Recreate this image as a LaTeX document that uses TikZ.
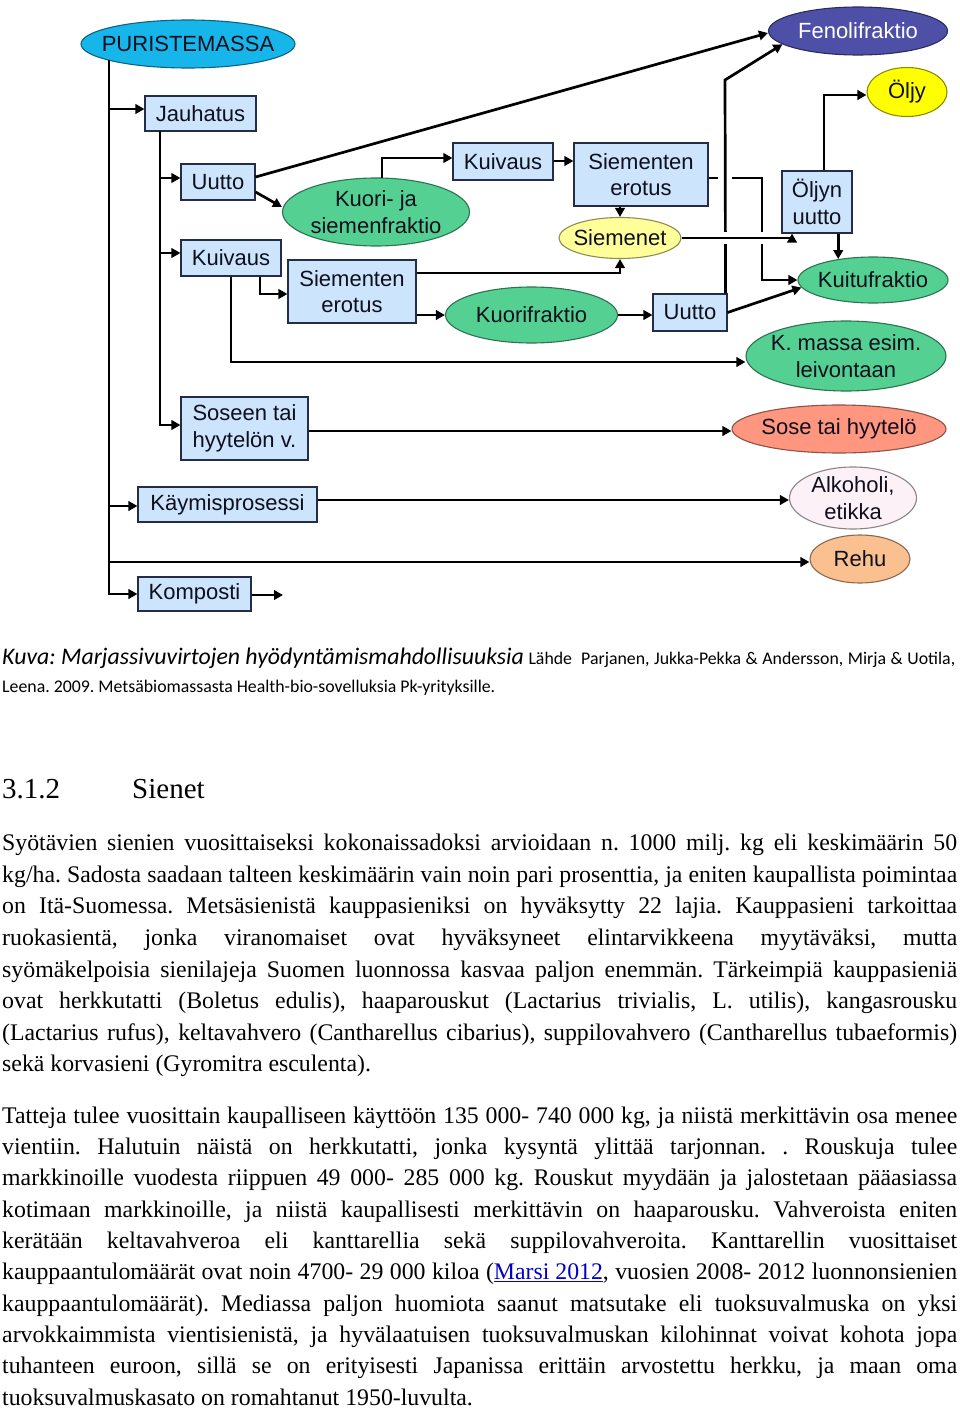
\documentclass[tikz,border=0pt]{standalone}
\usepackage{fontspec}
\setmainfont{Liberation Serif}
\newfontfamily\arialf{Liberation Sans}
\newfontfamily\calib{Carlito}
\usetikzlibrary{shapes.geometric,arrows.meta,calc}
\definecolor{boxfill}{RGB}{204,228,252}
\definecolor{bordc}{RGB}{35,45,70}
\definecolor{txtc}{RGB}{15,15,30}
\definecolor{cyanc}{RGB}{22,182,234}
\definecolor{fenc}{RGB}{78,80,168}
\definecolor{yelc}{RGB}{255,255,0}
\definecolor{ltyel}{RGB}{255,255,153}
\definecolor{grnc}{RGB}{84,208,146}
\definecolor{salc}{RGB}{255,150,128}
\definecolor{pinc}{RGB}{253,241,248}
\definecolor{orac}{RGB}{250,192,144}
\definecolor{linkc}{RGB}{0,0,200}
\newcommand\diagfont{\arialf\fontsize{22}{26.5}\selectfont}
\begin{document}
\frenchspacing
\begin{tikzpicture}[x=1pt,y=-1pt,
  box/.style={draw=bordc, line width=1.1pt, fill=boxfill, rectangle, inner sep=0pt, align=center, font=\diagfont, text=txtc},
  ell/.style={draw=#1!55!black, line width=1.1pt, fill=#1, ellipse, inner sep=0pt},
  lbl/.style={inner sep=0pt, align=center, font=\diagfont, text=txtc},
  ln/.style={line width=2.7pt, draw=black},
  arr/.style={ln, -{Triangle[length=9pt,width=9.5pt]}},
  mask/.style={draw=white, line width=#1},
  bodyl/.style={anchor=base west, inner sep=0pt, font=\fontsize{23.8}{31}\selectfont},
  capl/.style={anchor=base west, inner sep=0pt, font=\calib\fontsize{17.8}{20}\selectfont}
]
\useasboundingbox (0,0) rectangle (960,1410);
\fill[white] (0,0) rectangle (960,1410);

% ---------- nodes ----------
\node[ell=cyanc, minimum width=214pt, minimum height=48pt, label={[lbl]center:PURISTEMASSA}] (pur) at (188,44) {};
\node[ell=fenc, minimum width=179pt, minimum height=48pt, label={[lbl,text=white]center:Fenolifraktio}] (fen) at (858,31) {};
\node[ell=yelc, minimum width=80pt, minimum height=49pt, label={[lbl]center:Öljy}] (olj) at (907,92) {};
\node[box, minimum width=111pt, minimum height=35pt] (jau) at (200.5,113.5) {Jauhatus};
\node[box, minimum width=74pt, minimum height=36pt] (uut1) at (218,182) {Uutto};
\node[box, minimum width=100pt, minimum height=36pt] (kui1) at (231,258) {Kuivaus};
\node[box, minimum width=128pt, minimum height=63pt] (sie1) at (352,291.5) {Siementen\\erotus};
\node[ell=grnc, minimum width=187pt, minimum height=68pt, label={[lbl]center:Kuori- ja\\siemenfraktio}] (kuo) at (376,212) {};
\node[box, minimum width=100pt, minimum height=37pt] (kui2) at (503,161.5) {Kuivaus};
\node[box, minimum width=134pt, minimum height=63pt] (sie2) at (641,174.5) {Siementen\\erotus};
\node[ell=ltyel, minimum width=122pt, minimum height=41pt, label={[lbl]center:Siemenet}] (sem) at (620,238) {};
\node[box, minimum width=70pt, minimum height=62pt] (oju) at (817,202) {Öljyn\\uutto};
\node[ell=grnc, minimum width=150pt, minimum height=46pt, label={[lbl]center:Kuitufraktio}] (kuit) at (873,280) {};
\node[ell=grnc, minimum width=172pt, minimum height=56pt, label={[lbl]center:Kuorifraktio}] (kuof) at (531.5,315) {};
\node[box, minimum width=74pt, minimum height=37pt] (uut2) at (690,312.5) {Uutto};
\node[ell=grnc, minimum width=200pt, minimum height=70pt, label={[lbl]center:K. massa esim.\\leivontaan}] (kma) at (846,356) {};
\node[box, minimum width=127pt, minimum height=63pt] (sos1) at (244.5,428.5) {Soseen tai\\hyytelön v.};
\node[ell=salc, minimum width=214pt, minimum height=48pt, label={[lbl]center:Sose tai hyytelö}] (sos2) at (839,429) {};
\node[box, minimum width=179pt, minimum height=35pt] (kay) at (227.5,504.5) {Käymisprosessi};
\node[ell=pinc, minimum width=127pt, minimum height=62pt, label={[lbl]center:Alkoholi,\\etikka}] (alk) at (853,498) {};
\node[ell=orac, minimum width=100pt, minimum height=48pt, label={[lbl]center:Rehu}] (reh) at (860,559) {};
\node[box, minimum width=113pt, minimum height=34pt] (kom) at (194.5,594) {Komposti};
\coordinate (kend) at (283,595);

% ---------- connectors ----------
% main trunk
\draw[arr] (109,60) |- (kom.west);
\draw[arr] (109,109) -- (jau.west |- 0,109);
\draw[arr] (109,506) -- (kay.west |- 0,506);
\draw[arr] (109,562) -- (reh.west |- 0,562);
\draw[arr] (kom.east |- kend) -- (kend);
% Jauhatus stem
\draw[arr] (160,131) |- (sos1.west |- 0,425);
\draw[arr] (160,178) -- (uut1.west |- 0,178);
\draw[arr] (160,253) -- (kui1.west |- 0,253);
% Uutto (left)
\draw[arr] (uut1.east |- 0,177) -- (fen.west |- 0,33);
\draw[arr] (uut1.east |- 0,192) -- (kuo.west |- 0,207);
% Kuori- ja siemenfraktio -> Kuivaus -> Siementen erotus
\draw[arr] (382,178) |- (kui2.west |- 0,158);
\draw[arr] (kui2.east |- 0,161) -- (sie2.west |- 0,161);
\draw[arr] (sem.north |- sie2.south) -- (sem.north);
\draw[arr] (sie2.east |- 0,178) -| (762,280) -- (kuit.west |- 0,280);
% Uutto (right) -> Fenolifraktio, with gap in the crossing line
\draw[mask=14pt] (725,172) -- (725,184);
\draw[arr] ([xshift=-2pt]uut2.north east) -- (725,80) -- (fen.190);
% Siemenet -> Oljyn uutto (crossing over verticals)
\draw[mask=12pt] (700,238) -- (775,238);
\draw[arr] (sem.east) -| ([xshift=-25pt]oju.south);
\draw[arr] ([xshift=7pt]oju.north) |- (olj.west |- 0,95);
\draw[arr] (kuit.149 |- oju.south) -- (kuit.149);
% Kuivaus (left)
\draw[arr] ([xshift=29pt]kui1.south) |- (sie1.west |- 0,294);
\draw[arr] (kui1.south) |- (kma.west |- 0,362);
% Siementen erotus (left)
\draw[arr] (sie1.east |- 0,273) -| (sem.south);
\draw[arr] (sie1.east |- kuof.west) -- (kuof.west);
\draw[arr] (kuof.east) -- (uut2.west |- kuof.east);
\draw[arr] (uut2.east) -- (kuit.186);
% lower rows
\draw[arr] (sos1.east |- 0,431) -- (sos2.west |- 0,431);
\draw[arr] (kay.east |- 0,500) -- (alk.west |- 0,500);

% ---------- caption ----------
\node[capl] (cap1) at (2,664.5) {\makebox[953pt][s]{\mbox{\fontsize{23.8}{26}\selectfont\itshape Kuva: Marjassivuvirtojen hyödyntämismahdollisuuksia} Lähde\ \ Parjanen, Jukka-Pekka \& Andersson, Mirja \& Uotila,}};
\node[capl] (cap2) at (2,692) {Leena. 2009. Metsäbiomassasta Health-bio-sovelluksia Pk-yrityksille.};

% ---------- heading ----------
\node[anchor=base west, inner sep=0pt, font=\fontsize{29}{32}\selectfont] (hnum) at (2,798) {3.1.2};
\node[anchor=base west, inner sep=0pt, font=\fontsize{29}{32}\selectfont] (htit) at (132,798) {Sienet};

% ---------- paragraph 1 ----------
\node[bodyl] (a1) at (2,850.7) {\makebox[955pt][s]{Syötävien sienien vuosittaiseksi kokonaissadoksi arvioidaan n. 1000 milj. kg eli keskimäärin 50}};
\node[bodyl] (a2) at (2,882.3) {\makebox[955pt][s]{kg/ha. Sadosta saadaan talteen keskimäärin vain noin pari prosenttia, ja eniten kaupallista poimintaa}};
\node[bodyl] (a3) at (2,913.8) {\makebox[955pt][s]{on Itä-Suomessa. Metsäsienistä kauppasieniksi on hyväksytty 22 lajia. Kauppasieni tarkoittaa}};
\node[bodyl] (a4) at (2,945.4) {\makebox[955pt][s]{ruokasientä, jonka viranomaiset ovat hyväksyneet elintarvikkeena myytäväksi, mutta}};
\node[bodyl] (a5) at (2,977.0) {\makebox[955pt][s]{syömäkelpoisia sienilajeja Suomen luonnossa kasvaa paljon enemmän. Tärkeimpiä kauppasieniä}};
\node[bodyl] (a6) at (2,1008.5) {\makebox[955pt][s]{ovat herkkutatti (Boletus edulis), haaparouskut (Lactarius trivialis, L. utilis), kangasrousku}};
\node[bodyl] (a7) at (2,1040.1) {\makebox[955pt][s]{(Lactarius rufus), keltavahvero (Cantharellus cibarius), suppilovahvero (Cantharellus tubaeformis)}};
\node[bodyl] (a8) at (2,1071.7) {sekä korvasieni (Gyromitra esculenta).};

% ---------- paragraph 2 ----------
\node[bodyl] (b1) at (2,1123.3) {\makebox[955pt][s]{Tatteja tulee vuosittain kaupalliseen käyttöön 135 000- 740 000 kg, ja niistä merkittävin osa menee}};
\node[bodyl] (b2) at (2,1154.6) {\makebox[955pt][s]{vientiin. Halutuin näistä on herkkutatti, jonka kysyntä ylittää tarjonnan. . Rouskuja tulee}};
\node[bodyl] (b3) at (2,1185.9) {\makebox[955pt][s]{markkinoille vuodesta riippuen 49 000- 285 000 kg. Rouskut myydään ja jalostetaan pääasiassa}};
\node[bodyl] (b4) at (2,1217.2) {\makebox[955pt][s]{kotimaan markkinoille, ja niistä kaupallisesti merkittävin on haaparousku. Vahveroista eniten}};
\node[bodyl] (b5) at (2,1248.5) {\makebox[955pt][s]{kerätään keltavahveroa eli kanttarellia sekä suppilovahveroita. Kanttarellin vuosittaiset}};
\node[bodyl] (b6) at (2,1279.8) {\makebox[955pt][s]{kauppaantulomäärät ovat noin 4700- 29 000 kiloa ({\color{linkc}\underline{Marsi 2012}}, vuosien 2008- 2012 luonnonsienien}};
\node[bodyl] (b7) at (2,1311.1) {\makebox[955pt][s]{kauppaantulomäärät). Mediassa paljon huomiota saanut matsutake eli tuoksuvalmuska on yksi}};
\node[bodyl] (b8) at (2,1342.4) {\makebox[955pt][s]{arvokkaimmista vientisienistä, ja hyvälaatuisen tuoksuvalmuskan kilohinnat voivat kohota jopa}};
\node[bodyl] (b9) at (2,1373.7) {\makebox[955pt][s]{tuhanteen euroon, sillä se on erityisesti Japanissa erittäin arvostettu herkku, ja maan oma}};
\node[bodyl] (b10) at (2,1405) {tuoksuvalmuskasato on romahtanut 1950-luvulta.};
\end{tikzpicture}
\end{document}
